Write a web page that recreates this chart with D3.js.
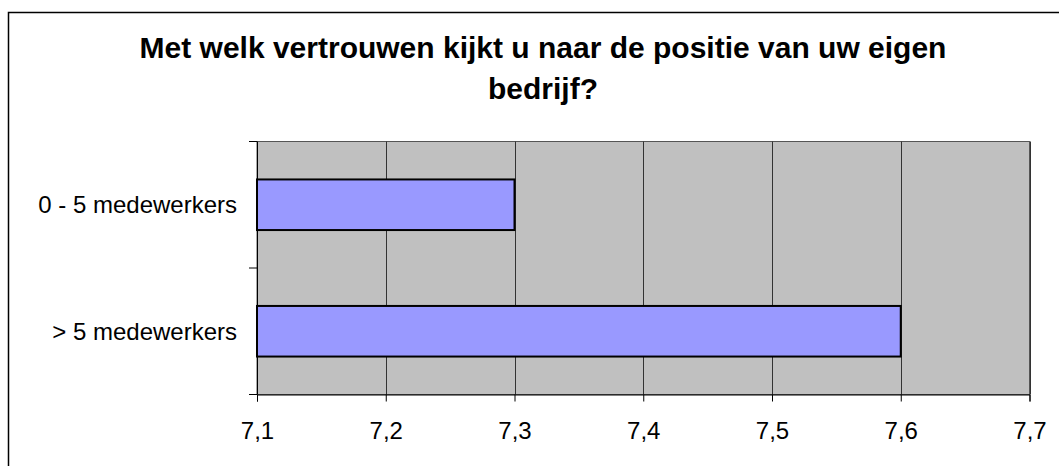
<!DOCTYPE html>
<html>
<head>
<meta charset="utf-8">
<script src="https://cdn.jsdelivr.net/npm/d3@7"></script>
<style>
  body { margin: 0; background: #fff; }
  text { font-family: "Liberation Sans", Arial, sans-serif; fill: #000; }
</style>
</head>
<body>
<script>
// data
const titleLines = ["Met welk vertrouwen kijkt u naar de positie van uw eigen", "bedrijf?"]
const categories = ["0 - 5 medewerkers", "> 5 medewerkers"]
const values = [7.3, 7.6]
const xTicks = [7.1, 7.2, 7.3, 7.4, 7.5, 7.6, 7.7]

const svgWidth = 1059
const svgHeight = 466
const plot = {left: 257, top: 141.5, right: 1029.5, bottom: 394.5}

const svg = d3.select("body").append("svg")
  .attr("width", svgWidth)
  .attr("height", svgHeight)

// outer chart border (runs off the canvas right/bottom)
svg.append("rect")
  .attr("x", 8.5).attr("y", 12.5)
  .attr("width", 1060).attr("height", 470)
  .attr("fill", "#fff")
  .attr("stroke", "#000").attr("stroke-width", 1.5)

// title
svg.append("g").selectAll("text")
  .data(titleLines)
  .enter().append("text")
  .attr("x", 543)
  .attr("y", (d, i) => 58 + i * 41)
  .attr("text-anchor", "middle")
  .style("font-size", "30px")
  .style("font-weight", "bold")
  .text(d => d)

// scales
const x = d3.scaleLinear()
  .domain([xTicks[0], xTicks[xTicks.length - 1]])
  .range([plot.left, plot.right])

const y = d3.scaleBand()
  .domain(categories)
  .range([plot.top, plot.bottom])
  .paddingInner(0.6)
  .paddingOuter(0.3)

// plot area
svg.append("rect")
  .attr("x", plot.left).attr("y", plot.top)
  .attr("width", plot.right - plot.left)
  .attr("height", plot.bottom - plot.top)
  .attr("fill", "#c0c0c0")
  .attr("stroke", "#555").attr("stroke-width", 1)

// vertical gridlines
svg.append("g").selectAll("line")
  .data(xTicks.slice(1))
  .enter().append("line")
  .attr("x1", d => Math.round(x(d)) + 0.5)
  .attr("x2", d => Math.round(x(d)) + 0.5)
  .attr("y1", plot.top).attr("y2", plot.bottom)
  .attr("stroke", "#333").attr("stroke-width", 1)

// bars
svg.append("g").selectAll("rect")
  .data(values)
  .enter().append("rect")
  .attr("x", x(xTicks[0]))
  .attr("y", (d, i) => y(categories[i]))
  .attr("width", d => x(d) - x(xTicks[0]))
  .attr("height", y.bandwidth())
  .attr("fill", "#9999ff")
  .attr("stroke", "#000").attr("stroke-width", 2)

// x axis
const xAxis = d3.axisBottom(x)
  .tickValues(xTicks)
  .tickSize(7)
  .tickPadding(20)
  .tickFormat(d => d3.format(".1f")(d).replace(".", ","))

const gx = svg.append("g")
  .attr("transform", "translate(0," + plot.bottom + ")")
  .call(xAxis)
gx.select(".domain").attr("stroke", "#000")
gx.selectAll(".tick line").attr("stroke", "#000")
gx.selectAll("text")
  .style("font-size", "24px")
  .style("font-family", "'Liberation Sans', Arial, sans-serif")

// y axis: ticks at band edges, labels at band centers
const yEdges = [plot.top, (plot.top + plot.bottom) / 2, plot.bottom]
const gy = svg.append("g")
gy.append("line")
  .attr("x1", plot.left + 0.5).attr("x2", plot.left + 0.5)
  .attr("y1", plot.top).attr("y2", plot.bottom)
  .attr("stroke", "#000")
gy.selectAll(".edge")
  .data(yEdges)
  .enter().append("line")
  .attr("class", "edge")
  .attr("x1", plot.left - 8).attr("x2", plot.left)
  .attr("y1", d => d).attr("y2", d => d)
  .attr("stroke", "#000")
gy.selectAll("text")
  .data(categories)
  .enter().append("text")
  .attr("x", plot.left - 20)
  .attr("y", d => y(d) + y.bandwidth() / 2)
  .attr("dy", "0.35em")
  .attr("text-anchor", "end")
  .style("font-size", "24px")
  .text(d => d)
</script>
</body>
</html>
